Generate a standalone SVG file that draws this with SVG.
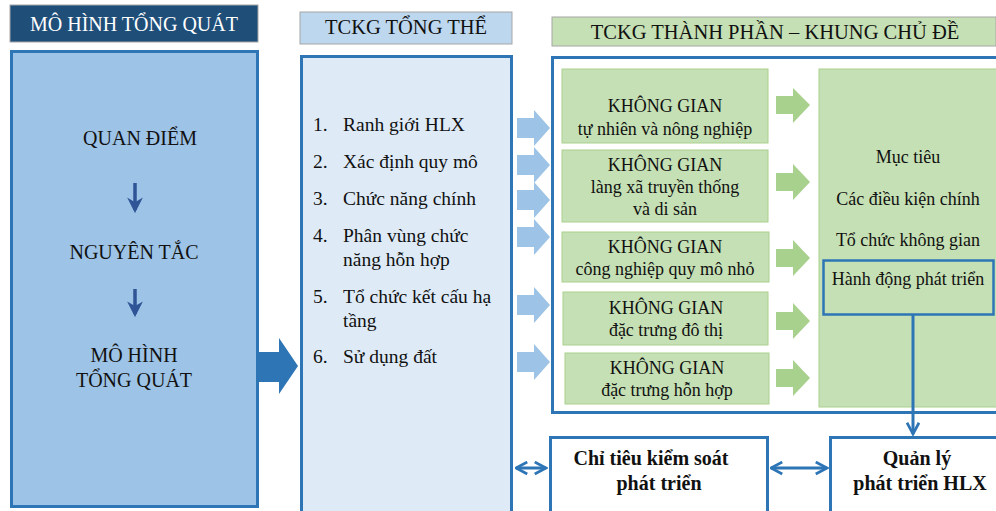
<svg xmlns="http://www.w3.org/2000/svg" width="996" height="511" viewBox="0 0 996 511">
<defs>
<style>
text{font-family:"Liberation Serif","Times New Roman",serif;fill:#111;}
.c{text-anchor:middle;}
.h{font-size:19.5px;}
.l{font-size:19.5px;}
.g{font-size:18px;}
.b{font-size:20px;font-weight:bold;}
.bluebox{fill:#DEEBF7;stroke:#2E75B6;stroke-width:3;}
.greenbox{fill:#C5E0B4;stroke:#A9D18E;stroke-width:1;}
.barrow{fill:#9DC3E6;}
.garrow{fill:#A9D18E;}
.conn{stroke:#2E75B6;stroke-width:3;fill:none;}
</style>
<marker id="ah" viewBox="0 0 10 10" refX="9" refY="5" markerWidth="5" markerHeight="5" orient="auto-start-reverse" markerUnits="strokeWidth">
<path d="M1.5,1 L9,5 L1.5,9" fill="none" stroke="#2E75B6" stroke-width="1.8"/>
</marker>
<marker id="dn" viewBox="0 0 10 10" refX="8" refY="5" markerWidth="4.5" markerHeight="4.5" orient="auto" markerUnits="strokeWidth">
<path d="M0,0 L10,5 L0,10 L3,5 Z" fill="#2F5597"/>
</marker>
</defs>
<rect width="996" height="511" fill="#fff"/>

<g id="header-model">
<rect x="10" y="5" width="248" height="37" fill="#1F4E79" stroke="#A6A6A6" stroke-width="1"/>
<text x="134" y="31" class="c" style="fill:#fff;font-size:20px">MÔ HÌNH TỔNG QUÁT</text>
</g>

<g id="model">
<rect x="11.5" y="51.5" width="246" height="455" fill="#9DC3E6" stroke="#2E75B6" stroke-width="3"/>
<text x="140" y="145" class="c" style="font-size:20px">QUAN ĐIỂM</text>
<text x="134" y="259" class="c" style="font-size:20px">NGUYÊN TẮC</text>
<text x="134" y="362" class="c" style="font-size:20px">MÔ HÌNH</text>
<text x="134" y="387" class="c" style="font-size:20px">TỔNG QUÁT</text>
<line x1="135" y1="183" x2="135" y2="210" stroke="#2F5597" stroke-width="3.5" marker-end="url(#dn)"/>
<line x1="135" y1="289" x2="135" y2="314" stroke="#2F5597" stroke-width="3.5" marker-end="url(#dn)"/>
</g>

<g id="header-overall">
<rect x="300" y="12" width="212" height="32" fill="#BDD7EE" stroke="#A6A6A6" stroke-width="1"/>
<text x="406" y="34" class="c" style="font-size:20.5px">TCKG TỔNG THỂ</text>
</g>

<g id="overall">
<rect x="301.5" y="56.5" width="210" height="460" class="bluebox"/>
<text x="313" y="131" class="l">1.</text><text x="343" y="131" class="l">Ranh giới HLX</text>
<text x="313" y="168" class="l">2.</text><text x="343" y="168" class="l">Xác định quy mô</text>
<text x="313" y="205" class="l">3.</text><text x="343" y="205" class="l">Chức năng chính</text>
<text x="313" y="242" class="l">4.</text><text x="343" y="242" class="l">Phân vùng chức</text>
<text x="343" y="266" class="l">năng hỗn hợp</text>
<text x="313" y="303" class="l">5.</text><text x="343" y="303" class="l">Tổ chức kết cấu hạ</text>
<text x="343" y="327" class="l">tầng</text>
<text x="313" y="363" class="l">6.</text><text x="343" y="363" class="l">Sử dụng đất</text>
</g>

<g id="header-component">
<rect x="552" y="17" width="444" height="29" fill="#C5E0B4" stroke="#A6A6A6" stroke-width="1"/>
<text x="775" y="39" class="c" style="font-size:20.5px">TCKG THÀNH PHẦN – KHUNG CHỦ ĐỀ</text>
</g>

<g id="component-frame">
<rect x="552.5" y="57.5" width="450" height="355" fill="#fff" stroke="#2E75B6" stroke-width="3"/>
</g>

<g id="space-1">
<rect x="562" y="69" width="206" height="74" class="greenbox"/>
<text x="665" y="112" class="c g">KHÔNG GIAN</text>
<text x="665" y="135" class="c g">tự nhiên và nông nghiệp</text>
</g>
<g id="space-2">
<rect x="562" y="150" width="206" height="72" class="greenbox"/>
<text x="665" y="171" class="c g">KHÔNG GIAN</text>
<text x="665" y="193" class="c g">làng xã truyền thống</text>
<text x="665" y="215" class="c g">và di sản</text>
</g>
<g id="space-3">
<rect x="562" y="232" width="207" height="50" class="greenbox"/>
<text x="665" y="253" class="c g">KHÔNG GIAN</text>
<text x="665" y="275" class="c g">công nghiệp quy mô nhỏ</text>
</g>
<g id="space-4">
<rect x="563" y="292" width="205" height="53" class="greenbox"/>
<text x="666" y="314" class="c g">KHÔNG GIAN</text>
<text x="666" y="336" class="c g">đặc trưng đô thị</text>
</g>
<g id="space-5">
<rect x="565" y="353" width="204" height="51" class="greenbox"/>
<text x="667" y="374" class="c g">KHÔNG GIAN</text>
<text x="667" y="396" class="c g">đặc trưng hỗn hợp</text>
</g>

<g id="framework">
<rect x="819" y="69" width="190" height="338" class="greenbox"/>
<text x="908" y="163" class="c g">Mục tiêu</text>
<text x="908" y="205" class="c g">Các điều kiện chính</text>
<text x="908" y="246" class="c g">Tổ chức không gian</text>
<rect x="823.5" y="260.5" width="170" height="54" fill="none" stroke="#2E75B6" stroke-width="2.5"/>
<text x="908" y="285" class="c g">Hành động phát triển</text>
</g>

<g id="control">
<rect x="550.5" y="437.5" width="217" height="80" fill="#fff" stroke="#2E75B6" stroke-width="3"/>
<text x="651" y="465" class="c b">Chỉ tiêu kiểm soát</text>
<text x="659" y="490" class="c b">phát triển</text>
</g>

<g id="management">
<rect x="830.5" y="437.5" width="180" height="80" fill="#fff" stroke="#2E75B6" stroke-width="3"/>
<text x="917" y="465" class="c b">Quản lý</text>
<text x="920" y="490" class="c b">phát triển HLX</text>
</g>

<g id="connectors">
<polygon points="259,352 279,352 279,338 298,366 279,394 279,382 259,382" fill="#2E75B6"/>
<g class="barrow">
<polygon points="517,118 534,118 534,110 550,128 534,146 534,138 517,138"/>
<polygon points="517,155 534,155 534,147 550,165 534,183 534,175 517,175"/>
<polygon points="517,190 534,190 534,182 550,200 534,218 534,210 517,210"/>
<polygon points="517,227 534,227 534,219 550,237 534,255 534,247 517,247"/>
<polygon points="517,295 534,295 534,287 550,305 534,323 534,315 517,315"/>
<polygon points="517,352 534,352 534,344 550,362 534,380 534,372 517,372"/>
</g>
<g class="garrow">
<polygon points="776,96 793,96 793,88 810,105 793,123 793,114 776,114"/>
<polygon points="776,173 793,173 793,164 810,182 793,200 793,191 776,191"/>
<polygon points="776,249 793,249 793,240 810,258 793,276 793,267 776,267"/>
<polygon points="776,312 793,312 793,303 810,321 793,339 793,330 776,330"/>
<polygon points="776,369 793,369 793,360 810,378 793,396 793,387 776,387"/>
</g>
<line x1="913" y1="315" x2="913" y2="434" class="conn" marker-end="url(#ah)"/>
<line x1="516" y1="468" x2="546" y2="468" class="conn" marker-start="url(#ah)" marker-end="url(#ah)"/>
<line x1="771" y1="468" x2="827" y2="468" class="conn" marker-start="url(#ah)" marker-end="url(#ah)"/>
</g>
</svg>
